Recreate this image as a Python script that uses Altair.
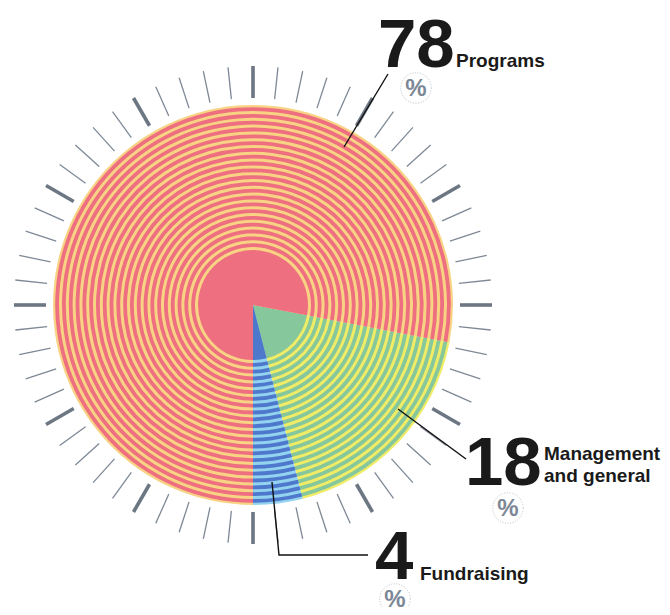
import math
import altair as alt
import pandas as pd

# ---------------- data ----------------
categories = ["Management and general", "Fundraising", "Programs"]
percent = [18, 4, 78]
value_labels = ["18", "4", "78"]
name_lines = [["Management", "and general"], ["Fundraising"], ["Programs"]]
dark_colors = ["#86C79C", "#4E78CC", "#EE6F80"]
light_colors = ["#F0EC66", "#93D3F0", "#F8D384"]

# ---------------- layout (page px -> chart px) ----------------
M = 8
CX, CY = 253 - M, 305 - M
R_OUT, R_IN = 200, 55
N_RINGS, PERIOD, LIGHT_W, DARK_W = 21, 6.8, 3.0, 3.8
START = math.radians(180 - (percent[0] + percent[1]) * 3.6)
TICK_R1, TICK_R2 = 207, 239

# label positions (page coords): number x, number baseline, name x, name baselines, pct circle centre
label_pos = {
    "Programs": dict(nx=378, ny=67, tx=456, ty=[67], px=416, py=88),
    "Management and general": dict(nx=465, ny=485, tx=544, ty=[460, 482], px=508, py=508),
    "Fundraising": dict(nx=375, ny=579, tx=420, ty=[580], px=395, py=599),
}
leaders = {
    "Programs": [(344, 147), (388, 74)],
    "Management and general": [(398, 409), (466, 459)],
    "Fundraising": [(272, 482), (279, 555), (368, 555)],
}

# ---------------- build tables ----------------
rows = []
cum = 0
shade_dom, shade_rng = [], []
for c, p, dc, lc in zip(categories, percent, dark_colors, light_colors):
    t0, t1 = cum, cum + p
    cum = t1
    shade_dom += [c + "|light", c + "|dark"]
    shade_rng += [lc, dc]
    rows.append(dict(cat=c, shade=c + "|light", t0=t0, t1=t1, ro=R_OUT, ri=0, layer=0))
    rows.append(dict(cat=c, shade=c + "|dark", t0=t0, t1=t1, ro=R_IN, ri=0, layer=1))
    for k in range(N_RINGS):
        ri = R_IN + LIGHT_W + k * PERIOD
        rows.append(dict(cat=c, shade=c + "|dark", t0=t0, t1=t1, ro=ri + DARK_W, ri=ri, layer=1))
arc_df = pd.DataFrame(rows)

theta_scale = alt.Scale(domain=[0, 100], range=[START, START + 2 * math.pi])
rad_scale = alt.Scale(type="linear", domain=[0, R_OUT], range=[0, R_OUT], zero=True)
color_scale = alt.Scale(domain=shade_dom, range=shade_rng)

def arc_layer(layer):
    return alt.Chart(arc_df).transform_filter(f"datum.layer == {layer}").mark_arc(
        x=CX, y=CY, strokeWidth=0
    ).encode(
        theta=alt.Theta("t0:Q", scale=theta_scale),
        theta2="t1:Q",
        radius=alt.Radius("ro:Q", scale=rad_scale),
        radius2="ri:Q",
        color=alt.Color("shade:N", scale=color_scale, legend=None),
    )

arcs = arc_layer(0) + arc_layer(1)

tick_df = pd.DataFrame({"i": list(range(60))})
ticks = alt.Chart(tick_df).transform_calculate(
    a="datum.i * 6 * PI / 180",
).transform_calculate(
    xa=f"{CX} + {TICK_R1} * sin(datum.a)",
    ya=f"{CY} - {TICK_R1} * cos(datum.a)",
    xb=f"{CX} + {TICK_R2} * sin(datum.a)",
    yb=f"{CY} - {TICK_R2} * cos(datum.a)",
).mark_rule(strokeCap="butt").encode(
    x=alt.X("xa:Q", scale=None),
    y=alt.Y("ya:Q", scale=None),
    x2="xb:Q",
    y2="yb:Q",
    strokeWidth=alt.condition("datum.i % 5 == 0", alt.value(3.6), alt.value(1.3)),
    color=alt.condition("datum.i % 5 == 0", alt.value("#6C7783"), alt.value("#7E8995")),
)

lead_rows = []
for c, pts in leaders.items():
    for j, (x, y) in enumerate(pts):
        lead_rows.append(dict(cat=c, o=j, x=x - M, y=y - M))
lead_df = pd.DataFrame(lead_rows)
lead = alt.Chart(lead_df).mark_line(color="#111111", strokeWidth=1.4).encode(
    x=alt.X("x:Q", scale=None), y=alt.Y("y:Q", scale=None), detail="cat:N", order="o:Q"
)

num_rows, name_rows, pct_rows = [], [], []
for c, v, lines in zip(categories, value_labels, name_lines):
    lp = label_pos[c]
    num_rows.append(dict(t=v, x=lp["nx"] - M, y=lp["ny"] - M))
    for ln, ty in zip(lines, lp["ty"]):
        name_rows.append(dict(t=ln, x=lp["tx"] - M, y=ty - M))
    pct_rows.append(dict(t="%", x=lp["px"] - M, y=lp["py"] - M))

def text_layer(rows_, **kw):
    return alt.Chart(pd.DataFrame(rows_)).mark_text(**kw).encode(
        x=alt.X("x:Q", scale=None), y=alt.Y("y:Q", scale=None), text="t:N"
    )

nums = text_layer(num_rows, font="Liberation Sans", fontWeight="bold", fontSize=69,
                  align="left", baseline="alphabetic", color="#1A1A1A")
names = text_layer(name_rows, font="Liberation Sans", fontWeight="bold", fontSize=19,
                   align="left", baseline="alphabetic", color="#1A1A1A")
pcts = text_layer(pct_rows, font="Liberation Sans", fontWeight="bold", fontSize=24,
                  align="center", baseline="middle", color="#7C8896", dy=1)
circles = alt.Chart(pd.DataFrame(pct_rows)).mark_point(
    shape="circle", size=930, filled=False, stroke="#9AA4AE", strokeWidth=1, strokeDash=[1, 1.6]
).encode(x=alt.X("x:Q", scale=None), y=alt.Y("y:Q", scale=None))

chart = alt.layer(arcs, ticks, lead, nums, names, circles, pcts).properties(
    width=654, height=599, padding=0, autosize=alt.AutoSizeParams(type="none")
).configure_view(stroke=None)

chart.save("out.html", embed_options={"renderer": "svg", "actions": False})
